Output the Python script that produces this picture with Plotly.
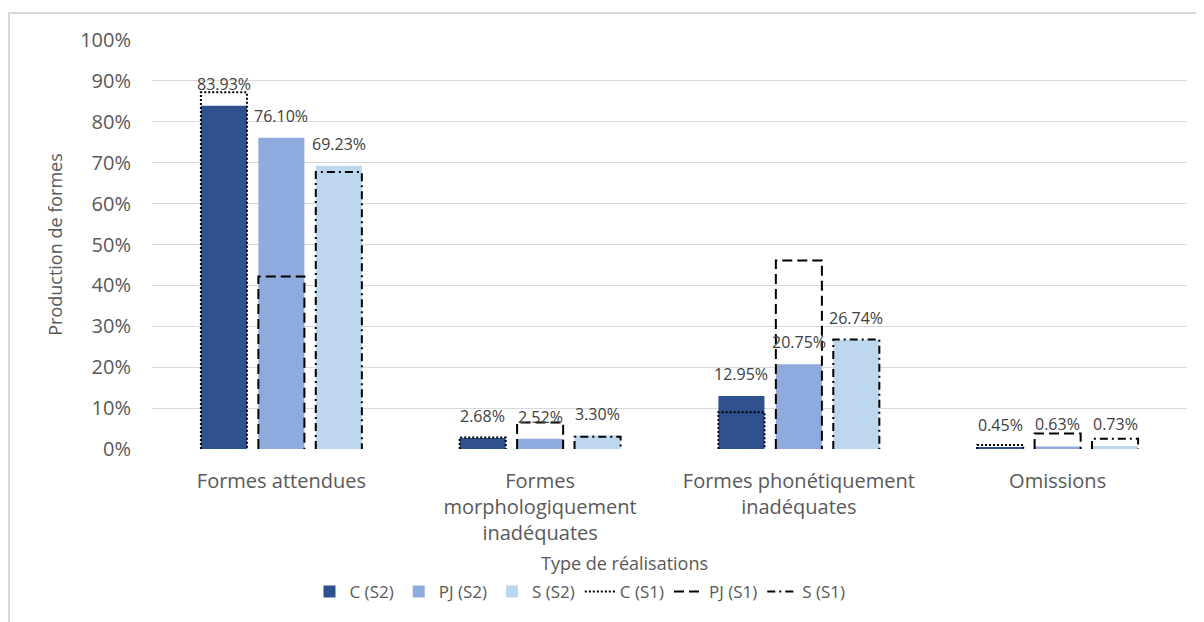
import plotly.graph_objects as go

# ---------------- data ----------------
categories = ["Formes attendues",
              "Formes<br>morphologiquement<br>inadéquates",
              "Formes phonétiquement<br>inadéquates",
              "Omissions"]
series_s2_names = ["C (S2)", "PJ (S2)", "S (S2)"]
c_s2 = [83.93, 2.68, 12.95, 0.45]
pj_s2 = [76.10, 2.52, 20.75, 0.63]
s_s2 = [69.23, 3.30, 26.74, 0.73]

series_s1_names = ["C (S1)", "PJ (S1)", "S (S1)"]
c_s1 = [87.2, 2.8, 9.0, 1.0]
pj_s1 = [42.2, 6.5, 46.1, 3.8]
s_s1 = [67.7, 3.0, 26.8, 2.5]

y_ticks = [0, 10, 20, 30, 40, 50, 60, 70, 80, 90, 100]

# ---------------- style ----------------
FONT = "Open Sans"
colors_s2 = ["#2F528F", "#8FAADC", "#BDD7EE"]
dashes_s1 = ["2px,2px", "10px,5px", "8px,4px,2px,4px"]
bar_w = 0.178
centers = [-0.222, 0.0, 0.222]

OFF = 8  # page body margin
W, H = 1204 - OFF, 622 - OFF
ML, MT = 152 - OFF, 40 - OFF
plot_right, plot_bottom = 1187 - OFF, 449 - OFF
MR, MB = W - plot_right, H - plot_bottom
pw = W - ML - MR
ph = H - MT - MB


def px_x(sx):
    return (sx - OFF - ML) / pw


def px_y(sy):
    return (plot_bottom - (sy - OFF)) / ph


xs = list(range(len(categories)))
fig = go.Figure()

s2_vals = [c_s2, pj_s2, s_s2]
for name, vals, col, c in zip(series_s2_names, s2_vals, colors_s2, centers):
    fig.add_trace(go.Bar(
        x=xs, y=vals, name=name, width=bar_w, offset=c - bar_w / 2,
        marker=dict(color=col, line=dict(width=0)),
        hoverinfo="name+y"))

s1_vals = [c_s1, pj_s1, s_s1]
for name, vals, dash, c in zip(series_s1_names, s1_vals, dashes_s1, centers):
    px_, py_ = [], []
    for i, v in enumerate(vals):
        x0 = i + c - bar_w / 2
        x1 = i + c + bar_w / 2
        px_ += [x0, x0, x1, x1, None]
        py_ += [0, v, v, 0, None]
    fig.add_trace(go.Scatter(
        x=px_, y=py_, name=name, mode="lines",
        line=dict(color="black", width=2, dash=dash),
        hoverinfo="skip", connectgaps=False))

shapes = [dict(type="rect", xref="paper", yref="paper",
               x0=px_x(9), x1=px_x(1230), y0=px_y(650), y1=px_y(13),
               line=dict(color="#D9D9D9", width=2), fillcolor="rgba(0,0,0,0)",
               layer="below")]

annotations = []
for vals, c in zip(s2_vals, centers):
    for i, v in enumerate(vals):
        annotations.append(dict(
            x=i + c, y=v, xref="x", yref="y", text=f"{v:.2f}%",
            showarrow=False, yanchor="bottom", yshift=9,
            font=dict(family=FONT, size=16, color="#404040")))

annotations.append(dict(
    x=px_x(624), y=px_y(563), xref="paper", yref="paper",
    text="Type de réalisations", showarrow=False,
    xanchor="center", yanchor="middle",
    font=dict(family=FONT, size=18, color="#595959")))

fig.update_layout(
    width=W, height=H, autosize=False,
    margin=dict(l=ML, r=MR, t=MT, b=MB),
    paper_bgcolor="white", plot_bgcolor="white",
    font=dict(family=FONT, color="#595959"),
    shapes=shapes, annotations=annotations,
    showlegend=True,
    legend=dict(orientation="h", x=px_x(580), xanchor="center",
                y=px_y(592), yanchor="middle",
                font=dict(family=FONT, size=17, color="#595959"),
                itemwidth=30, traceorder="normal"),
    xaxis=dict(range=[-0.5, 3.5], tickmode="array", tickvals=xs,
               ticktext=categories, showgrid=False, zeroline=False,
               showline=False, ticks="", ticklabelstandoff=18,
               tickfont=dict(family=FONT, size=20, color="#595959")),
    yaxis=dict(range=[0, 100], tickmode="array", tickvals=y_ticks,
               ticktext=[f"{t}%" for t in y_ticks],
               showgrid=True, gridcolor="#D9D9D9", gridwidth=1,
               zeroline=False, showline=False, ticks="",
               ticklabelstandoff=20,
               tickfont=dict(family=FONT, size=20, color="#595959"),
               title=dict(text="Production de formes", standoff=12,
                          font=dict(family=FONT, size=18, color="#595959"))),
)

fig.write_html("out.html")
